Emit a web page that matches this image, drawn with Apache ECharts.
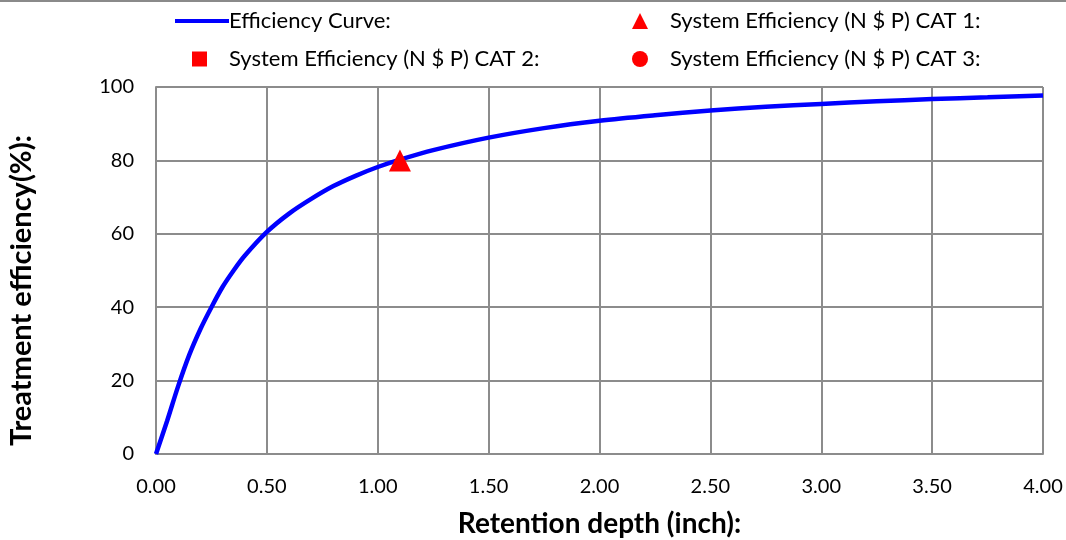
<!DOCTYPE html>
<html><head><meta charset="utf-8">
<script src="https://cdn.jsdelivr.net/npm/echarts@6/dist/echarts.min.js"></script>
<style>html,body{margin:0;padding:0;background:#fff}#c{width:1066px;height:540px}</style>
</head><body><div id="c"></div>
<script>
const depth = [0, 0.05, 0.1, 0.15, 0.2, 0.25, 0.3, 0.35, 0.4, 0.5, 0.6, 0.7, 0.8, 0.9, 1.0, 1.1, 1.25, 1.5, 1.75, 2.0, 2.25, 2.5, 2.75, 3.0, 3.25, 3.5, 3.75, 4.0];
const efficiency = [0, 9, 18.5, 27, 34, 40, 45.5, 50, 54, 60.5, 65.5, 69.5, 73, 75.8, 78.2, 80.2, 82.8, 86.2, 88.8, 90.8, 92.3, 93.6, 94.6, 95.4, 96.1, 96.7, 97.2, 97.7];
const cat1 = [[1.1, 80]];
const cat2 = [];
const cat3 = [];
const names = ['Efficiency Curve:', 'System Efficiency (N $ P) CAT 1:', 'System Efficiency (N $ P) CAT 2:', 'System Efficiency (N $ P) CAT 3:'];
const xTicks = {min: 0, max: 4, step: 0.5};
const yTicks = {min: 0, max: 100, step: 20};

const font = 'Lato';
const chart = echarts.init(document.getElementById('c'), null, {renderer: 'canvas'});
const legTxt = {fontFamily: font, fontSize: 22, color: '#000'};
chart.setOption({
  animation: false,
  graphic: [{type: 'rect', left: 0, top: 0, shape: {width: 1066, height: 2}, style: {fill: '#8a8a8a'}}],
  legend: [
    {left: 170, top: 5, data: [names[0]], itemWidth: 54, itemHeight: 4, icon: 'rect', textStyle: Object.assign({}, legTxt, {padding: [0, 0, 0, -5]}), itemGap: 0},
    {left: 627, top: 5, data: [names[1]], itemWidth: 16, itemHeight: 16, textStyle: Object.assign({}, legTxt, {padding: [0, 0, 0, 17]})},
    {left: 187, top: 43, data: [names[2]], itemWidth: 15, itemHeight: 15, textStyle: Object.assign({}, legTxt, {padding: [0, 0, 0, 17]})},
    {left: 627, top: 43, data: [names[3]], itemWidth: 16, itemHeight: 16, textStyle: Object.assign({}, legTxt, {padding: [0, 0, 0, 17]})}
  ],
  grid: {left: 156, right: 23, top: 87, bottom: 86, containLabel: false, outerBoundsMode: 'none'},
  xAxis: {
    type: 'value', min: xTicks.min, max: xTicks.max, interval: xTicks.step,
    name: 'Retention depth (inch):', nameLocation: 'middle', nameGap: 56,
    nameTextStyle: {fontFamily: font, fontSize: 28, fontWeight: 'bold', color: '#000'},
    axisLine: {lineStyle: {color: '#8c8c8c', width: 2}}, axisTick: {show: false},
    axisLabel: {fontFamily: font, fontSize: 20, color: '#000', margin: 23, formatter: v => v.toFixed(2)},
    splitLine: {show: true, lineStyle: {color: '#8c8c8c', width: 2}}
  },
  yAxis: {
    type: 'value', min: yTicks.min, max: yTicks.max, interval: yTicks.step,
    name: 'Treatment efficiency(%):', nameLocation: 'middle', nameGap: 120, nameRotate: 90,
    nameTextStyle: {fontFamily: font, fontSize: 29, fontWeight: 'bold', color: '#000', padding: [0, 40, 0, 0]},
    axisLine: {show: true, lineStyle: {color: '#8c8c8c', width: 2}}, axisTick: {show: false},
    axisLabel: {fontFamily: font, fontSize: 20, color: '#000', margin: 22},
    splitLine: {show: true, lineStyle: {color: '#8c8c8c', width: 2}}
  },
  series: [
    {name: names[0], type: 'line', data: depth.map((d, i) => [d, efficiency[i]]), smooth: 0.3, showSymbol: false, symbol: 'none',
      lineStyle: {color: '#0000ff', width: 4.5}, itemStyle: {color: '#0000ff'}, z: 3},
    {name: names[1], type: 'scatter', data: cat1, symbol: 'triangle', symbolSize: 22, itemStyle: {color: '#ff0000', opacity: 1}, z: 4},
    {name: names[2], type: 'scatter', data: cat2, symbol: 'rect', symbolSize: 15, itemStyle: {color: '#ff0000', opacity: 1}},
    {name: names[3], type: 'scatter', data: cat3, symbol: 'circle', symbolSize: 16, itemStyle: {color: '#ff0000', opacity: 1}}
  ]
});
</script></body></html>
